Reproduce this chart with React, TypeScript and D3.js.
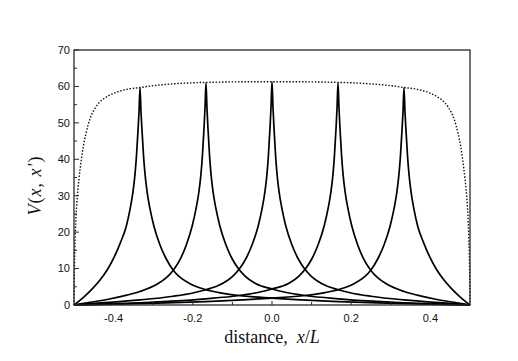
import React from 'react';
import * as d3 from 'd3';

// potential curves V(x, x') for source points x' = -1/3, -1/6, 0, 1/6, 1/3
const curveM33: [number, number][] = [
  [-0.5, 0], [-0.4733, 2.4], [-0.4533, 4.5], [-0.4333, 7.0], [-0.4163, 9.6], [-0.3983, 13.2],
  [-0.3833, 17.0], [-0.3683, 21.5], [-0.3583, 26.4], [-0.3513, 30.9], [-0.3463, 35.5],
  [-0.3423, 40.8], [-0.3383, 48.0], [-0.3358, 53.0], [-0.3333, 59.7], [-0.3308, 53.0],
  [-0.3283, 48.0], [-0.3243, 40.8],
  [-0.3203, 35.6], [-0.3153, 31.0], [-0.3083, 26.5], [-0.2983, 21.7], [-0.2833, 16.6],
  [-0.2683, 12.9], [-0.2503, 9.7], [-0.2333, 7.7], [-0.2083, 5.9], [-0.1663, 4.2],
  [-0.1333, 3.4], [-0.0833, 2.6], [0, 1.9], [0.0867, 1.35], [0.1667, 0.95], [0.2667, 0.6],
  [0.3667, 0.3], [0.4467, 0.1], [0.5, 0],
];

const curveM17: [number, number][] = [
  [-0.5, 0], [-0.4667, 0.6], [-0.4167, 1.5], [-0.3667, 2.7], [-0.3337, 3.7], [-0.2917, 5.6],
  [-0.2667, 7.5], [-0.2497, 9.5], [-0.2317, 12.6], [-0.2167, 16.4], [-0.2017, 21.6],
  [-0.1917, 26.5], [-0.1847, 31.0], [-0.1797, 35.6], [-0.1757, 41.0], [-0.1717, 48.5],
  [-0.1692, 54.0], [-0.1667, 61.0], [-0.1642, 54.0], [-0.1617, 48.5], [-0.1577, 41.0],
  [-0.1537, 35.6], [-0.1487, 31.0],
  [-0.1417, 26.5], [-0.1317, 21.7], [-0.1167, 16.6], [-0.1017, 12.9], [-0.0837, 9.8],
  [-0.0667, 7.8], [-0.0417, 5.9], [0, 4.4], [0.0333, 3.5], [0.0833, 2.6], [0.1667, 1.7],
  [0.2533, 1.05], [0.3333, 0.6], [0.4333, 0.22], [0.5, 0],
];

const curve0: [number, number][] = [
  [-0.5, 0], [-0.45, 0.45], [-0.4, 0.8], [-0.333, 1.4], [-0.25, 2.4], [-0.2, 3.3], [-0.167, 4.2],
  [-0.125, 5.9], [-0.1, 7.8], [-0.083, 9.8], [-0.065, 12.9], [-0.05, 16.6], [-0.035, 21.6],
  [-0.025, 26.5], [-0.018, 31.0], [-0.013, 35.6], [-0.009, 41.1], [-0.005, 48.7],
  [-0.0025, 54.2], [0, 61.3], [0.0025, 54.2], [0.005, 48.7], [0.009, 41.1],
  [0.013, 35.6], [0.018, 31.0], [0.025, 26.5], [0.035, 21.6],
  [0.05, 16.6], [0.065, 12.9], [0.083, 9.8], [0.1, 7.8], [0.125, 5.9], [0.167, 4.2],
  [0.2, 3.3], [0.25, 2.4], [0.333, 1.4], [0.4, 0.8], [0.45, 0.45], [0.5, 0],
];

const curveP17: [number, number][] = [
  [-0.5, 0], [-0.4333, 0.22], [-0.3333, 0.6], [-0.2533, 1.05], [-0.1667, 1.7], [-0.0833, 2.6],
  [-0.0333, 3.5], [0, 4.4], [0.0417, 5.9], [0.0667, 7.8], [0.0837, 9.8], [0.1017, 12.9],
  [0.1167, 16.6], [0.1317, 21.7], [0.1417, 26.5], [0.1487, 31.0], [0.1537, 35.6],
  [0.1577, 41.0], [0.1617, 48.5], [0.1642, 54.0], [0.1667, 61.0], [0.1692, 54.0],
  [0.1717, 48.5], [0.1757, 41.0],
  [0.1797, 35.6], [0.1847, 31.0], [0.1917, 26.5], [0.2017, 21.6], [0.2167, 16.4],
  [0.2317, 12.6], [0.2497, 9.5], [0.2667, 7.5], [0.2917, 5.6], [0.3337, 3.7], [0.3667, 2.7],
  [0.4167, 1.5], [0.4667, 0.6], [0.5, 0],
];

const curveP33: [number, number][] = [
  [-0.5, 0], [-0.4467, 0.1], [-0.3667, 0.3], [-0.2667, 0.6], [-0.1667, 0.95], [-0.0867, 1.35],
  [0, 1.9], [0.0833, 2.6], [0.1333, 3.4], [0.1663, 4.2], [0.2083, 5.9], [0.2333, 7.7],
  [0.2503, 9.7], [0.2683, 12.9], [0.2833, 16.6], [0.2983, 21.7], [0.3083, 26.5],
  [0.3153, 31.0], [0.3203, 35.6], [0.3243, 40.8], [0.3283, 48.0], [0.3308, 53.0],
  [0.3333, 59.7], [0.3358, 53.0], [0.3383, 48.0], [0.3423, 40.8],
  [0.3463, 35.5], [0.3513, 30.9], [0.3583, 26.4],
  [0.3683, 21.5], [0.3833, 17.0], [0.3983, 13.2], [0.4163, 9.6], [0.4333, 7.0],
  [0.4533, 4.5], [0.4733, 2.4], [0.5, 0],
];

// dotted envelope V(x, x)
const envelope: [number, number][] = [
  [-0.5, 0], [-0.4996, 5], [-0.499, 10], [-0.498, 15], [-0.4965, 20], [-0.4945, 25],
  [-0.4915, 30], [-0.4875, 34.5], [-0.482, 39.5], [-0.4765, 43.5], [-0.47, 47], [-0.46, 51],
  [-0.445, 54.3], [-0.43, 56.2], [-0.415, 57.3], [-0.4, 58.1], [-0.367, 59.2], [-0.333, 59.7],
  [-0.3, 60.2], [-0.25, 60.7], [-0.2, 61.0], [-0.167, 61.1], [-0.1, 61.25], [0, 61.3],
  [0.1, 61.25], [0.167, 61.1], [0.2, 61.0], [0.25, 60.7], [0.3, 60.2], [0.333, 59.7],
  [0.367, 59.2], [0.4, 58.1], [0.415, 57.3], [0.43, 56.2], [0.445, 54.3], [0.46, 51],
  [0.47, 47], [0.4765, 43.5], [0.482, 39.5], [0.4875, 34.5], [0.4915, 30], [0.4945, 25],
  [0.4965, 20], [0.498, 15], [0.499, 10], [0.4996, 5], [0.5, 0],
];

const xMajor = [-0.4, -0.2, 0, 0.2, 0.4];
const xMajorLabels = ['-0.4', '-0.2', '0.0', '0.2', '0.4'];
const xMinor = [-0.3, -0.1, 0.1, 0.3];
const yMajor = [0, 10, 20, 30, 40, 50, 60, 70];
const yMinor = [5, 15, 25, 35, 45, 55, 65];

const W = 518;
const H = 361;
const left = 74, right = 470, top = 50, bottom = 305;

export default function App() {
  const x = d3.scaleLinear().domain([-0.5, 0.5]).range([left, right]);
  const y = d3.scaleLinear().domain([0, 70]).range([bottom, top]);
  const line = d3
    .line<[number, number]>()
    .x(d => x(d[0]))
    .y(d => y(d[1]))
    .curve(d3.curveMonotoneX);

  const curves = [curveM33, curveM17, curve0, curveP17, curveP33];
  const axisColor = '#2a2a2a';

  return (
    <svg width={W} height={H} style={{ position: 'absolute', left: 0, top: 0, background: '#fff' }}>
      <rect x={0} y={0} width={W} height={H} fill="#fff" />
      <path d={line(envelope) || ''} fill="none" stroke="#111" strokeWidth={1.4} strokeDasharray="1.5 1.7" />
      {curves.map((c, i) => (
        <path key={i} d={line(c) || ''} fill="none" stroke="#000" strokeWidth={1.7} />
      ))}

      {/* ticks, pointing inward */}
      {yMajor.map(v => (
        <line key={'ym' + v} x1={left} x2={left + 5} y1={y(v)} y2={y(v)} stroke={axisColor} strokeWidth={1} />
      ))}
      {yMinor.map(v => (
        <line key={'yn' + v} x1={left} x2={left + 3} y1={y(v)} y2={y(v)} stroke={axisColor} strokeWidth={1} />
      ))}
      {xMajor.map(v => (
        <line key={'xm' + v} x1={x(v)} x2={x(v)} y1={bottom} y2={bottom - 4} stroke={axisColor} strokeWidth={1} />
      ))}
      {xMinor.map(v => (
        <line key={'xn' + v} x1={x(v)} x2={x(v)} y1={bottom} y2={bottom - 3} stroke={axisColor} strokeWidth={1} />
      ))}

      <rect x={left} y={top} width={right - left} height={bottom - top} fill="none" stroke={axisColor} strokeWidth={1.3} />

      {yMajor.map(v => (
        <text key={'yl' + v} x={left - 4} y={y(v)} dy="0.35em" textAnchor="end"
          fontFamily="Liberation Sans, Arial, sans-serif" fontSize={11} fill="#111">{v}</text>
      ))}
      {xMajor.map((v, i) => (
        <text key={'xl' + v} x={x(v)} y={bottom + 17} textAnchor="middle"
          fontFamily="Liberation Sans, Arial, sans-serif" fontSize={11} fill="#111">{xMajorLabels[i]}</text>
      ))}

      <text x={(left + right) / 2} y={343} textAnchor="middle" fontFamily="Liberation Serif, Times New Roman, serif" fontSize={18} fill="#111">
        distance,<tspan dx={9} fontStyle="italic">x</tspan><tspan>/</tspan><tspan fontStyle="italic">L</tspan>
      </text>

      <text transform={`translate(41, ${(top + bottom) / 2 + 8}) rotate(-90)`} textAnchor="middle"
        fontFamily="Liberation Serif, Times New Roman, serif" fontSize={18} fill="#111" letterSpacing={1}>
        <tspan fontStyle="italic">V</tspan>(<tspan fontStyle="italic">x</tspan>, <tspan fontStyle="italic">x'</tspan>)
      </text>
    </svg>
  );
}
